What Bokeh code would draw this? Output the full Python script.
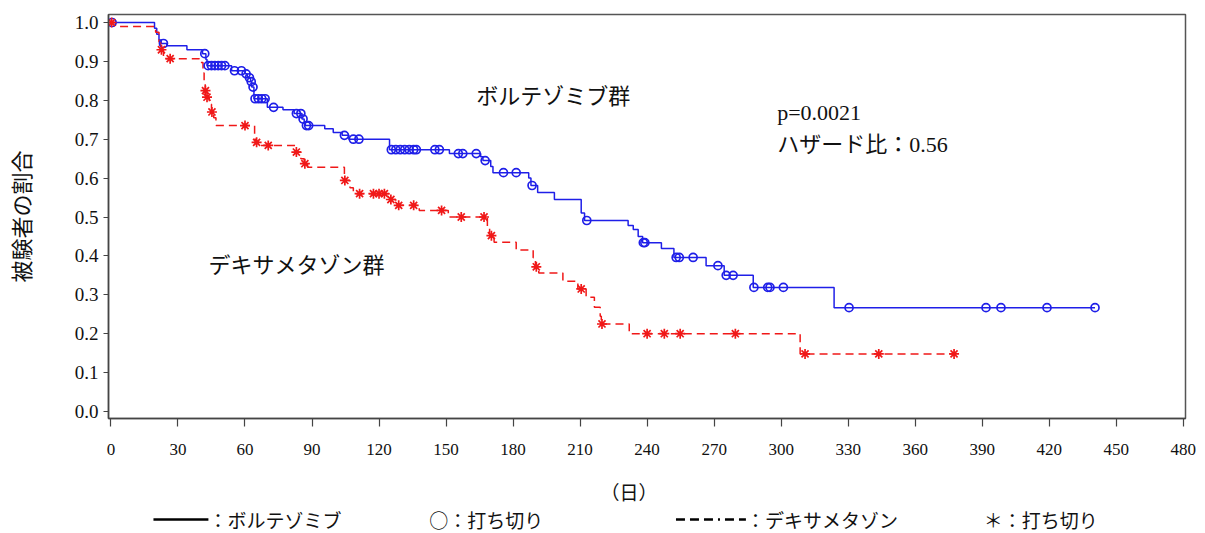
import numpy as np
from bokeh.plotting import figure
from bokeh.layouts import column
from bokeh.models import Range1d, FixedTicker, PrintfTickFormatter, Label
from bokeh.embed import file_html
from bokeh.resources import INLINE

# Kaplan-Meier estimates: event days and survival proportion after each step
bort_step_days = [19.5, 20.5, 21.5, 22.5, 25, 34, 41, 42.5, 43, 54,
                  60, 61, 62.5, 63, 64, 70, 77, 82, 85.5, 86.5,
                  87, 95.7, 99.5, 103.5, 106.5, 124.7, 151.5, 165.5, 166.5, 170,
                  171, 187, 188, 191, 198.5, 210.5, 212, 231.5, 233.8, 236,
                  238, 246.4, 252, 266.4, 274.5, 287.5, 323.7]
bort_step_surv = [0.985, 0.970, 0.955, 0.946, 0.940, 0.930, 0.920, 0.905, 0.889, 0.876,
                  0.868, 0.858, 0.848, 0.834, 0.804, 0.782, 0.776, 0.766, 0.752, 0.742,
                  0.735, 0.727, 0.717, 0.710, 0.700, 0.673, 0.663, 0.655, 0.645, 0.630,
                  0.614, 0.600, 0.581, 0.563, 0.545, 0.510, 0.491, 0.478, 0.468, 0.450,
                  0.434, 0.419, 0.396, 0.375, 0.350, 0.319, 0.267]
bort_censor_days = [0.5, 23.5, 42, 43.5, 45, 46.5, 48, 49.5, 51, 55.3,
                    58.4, 60.5, 62, 62.8, 63.6, 64.5, 66, 67.5, 69, 72.8,
                    83, 85, 86, 87.5, 88.5, 104.5, 108.5, 111, 125.5, 127.5,
                    129.5, 131.5, 133.5, 135.5, 136.7, 145, 147, 155.5, 157.5, 163.5,
                    167.5, 175.7, 181.4, 188.5, 213, 238.3, 239, 253, 254.4, 260.6,
                    271.7, 275.4, 278.5, 287.8, 294, 295, 301, 330.4, 391.7, 398.4,
                    419, 440.5]

dexa_step_days = [2, 20, 21.5, 22.2, 23.5, 39.5, 41.2, 41.7, 42.2, 42.8,
                  44, 45, 46, 47, 64.3, 65, 67, 82.5, 85, 86.5,
                  88, 104.5, 107, 108.5, 124.5, 127.5, 138, 151, 168.5, 169.5,
                  171.5, 181.4, 189, 190, 191.5, 202.3, 209, 212.7, 216.4, 219,
                  219.5, 232, 308.5]
dexa_step_surv = [0.990, 0.975, 0.950, 0.930, 0.907, 0.897, 0.870, 0.845, 0.825, 0.808,
                  0.790, 0.770, 0.755, 0.735, 0.700, 0.692, 0.684, 0.667, 0.650, 0.637,
                  0.628, 0.594, 0.575, 0.560, 0.545, 0.530, 0.517, 0.500, 0.470, 0.452,
                  0.435, 0.415, 0.395, 0.372, 0.356, 0.335, 0.315, 0.294, 0.268, 0.245,
                  0.225, 0.200, 0.148]
dexa_censor_days = [0.3, 22.6, 26.5, 42.3, 43, 45.2, 60, 65.2, 70.4, 83,
                    86.8, 104.7, 111.3, 117.5, 120, 122.4, 125.3, 128.8, 135.5, 148,
                    156.8, 167, 170.3, 190.4, 210.5, 219.8, 240, 247.7, 254.8, 279.5,
                    310.7, 343.7, 377.4]

x_ticks = list(range(0, 481, 30))
y_ticks = [round(0.1 * i, 1) for i in range(11)]

x_title = "（日）"
key_texts = ["：ボルテゾミブ", "○：打ち切り", "：デキサメタゾン", "＊：打ち切り"]

BLUE = "#1f1fe8"
RED = "#f01818"
INK = "#111111"
SERIF = "Liberation Serif"
JP = "Noto Sans CJK JP"
W = 1205
LEFT, RIGHT = 107, 20
MAIN_H, FOOT_H = 470, 63


def km_path(days, surv, censors):
    xs = [0.0] + list(days) + [max(censors)]
    ys = [1.0] + list(surv) + [surv[-1]]
    return xs, ys


def at_time(days, surv, t):
    levels = np.concatenate([[1.0], surv])
    idx = np.searchsorted(np.asarray(days), np.asarray(t), side="right")
    return levels[idx]


p = figure(width=W, height=MAIN_H, output_backend="svg", toolbar_location=None,
           x_range=Range1d(-1.1, 481), y_range=Range1d(-0.018, 1.0206),
           min_border_left=LEFT, min_border_right=RIGHT, min_border_top=14,
           min_border_bottom=MAIN_H - 418)
p.background_fill_color = "white"
p.border_fill_color = "white"
p.outline_line_color = "#555555"
p.outline_line_width = 1.5
p.grid.visible = False

# axes
p.xaxis.ticker = FixedTicker(ticks=x_ticks)
p.yaxis.ticker = FixedTicker(ticks=y_ticks)
p.yaxis.formatter = PrintfTickFormatter(format="%.1f")
for ax in (p.xaxis[0], p.yaxis[0]):
    ax.axis_line_color = "#444444"
    ax.axis_line_width = 1.5
    ax.major_tick_line_color = "#444444"
    ax.major_tick_line_width = 1.2
    ax.minor_tick_line_color = None
    ax.major_tick_in = 0
    ax.major_label_text_font = SERIF
    ax.major_label_text_color = INK
    ax.axis_label_text_font = JP
    ax.axis_label_text_font_style = "normal"
    ax.axis_label_text_color = INK
p.xaxis.major_tick_out = 8
p.yaxis.major_tick_out = 5
p.xaxis.major_label_text_font_size = "17px"
p.yaxis.major_label_text_font_size = "19px"
p.xaxis.major_label_standoff = 17
p.yaxis.major_label_standoff = 5
p.yaxis.axis_label = "被験者の割合"
p.yaxis.axis_label_text_font_size = "22px"
p.yaxis.axis_label_standoff = 36

# survival curves
bx, by = km_path(bort_step_days, bort_step_surv, bort_censor_days)
p.step(bx, by, mode="after", line_color=BLUE, line_width=1.5)
dx, dy = km_path(dexa_step_days, dexa_step_surv, dexa_censor_days)
p.step(dx, dy, mode="after", line_color=RED, line_width=1.5, line_dash="8 5")

# censoring marks
p.scatter(bort_censor_days, at_time(bort_step_days, bort_step_surv, bort_censor_days),
          marker="circle", size=8, fill_color=None, line_color=BLUE, line_width=1.7)
p.scatter(dexa_censor_days, at_time(dexa_step_days, dexa_step_surv, dexa_censor_days),
          marker="asterisk", size=10, line_color=RED, line_width=1.7)

# group names and statistics
p.add_layout(Label(x=198, y=0.815, text="ボルテゾミブ群", text_font=JP,
                   text_font_size="22px", text_align="center", text_baseline="middle",
                   text_color=INK))
p.add_layout(Label(x=83, y=0.383, text="デキサメタゾン群", text_font=JP,
                   text_font_size="22px", text_align="center", text_baseline="middle",
                   text_color=INK))
p.add_layout(Label(x=298.2, y=0.769, text="p=0.0021", text_font=SERIF,
                   text_font_size="22px", text_align="left", text_baseline="middle",
                   text_color=INK))
p.add_layout(Label(x=298.2, y=0.686, text="ハザード比：0.56",
                   text_font="'Liberation Serif', 'Noto Sans CJK JP'",
                   text_font_size="22px", text_align="left", text_baseline="middle",
                   text_color=INK))

# footer strip: x-axis title and key. Its frame lines up with the chart
# frame, so both ranges are expressed in page pixels (y counted from the bottom)
foot = figure(width=W, height=FOOT_H, output_backend="svg", toolbar_location=None,
              x_range=Range1d(LEFT, W - RIGHT), y_range=Range1d(0, FOOT_H),
              min_border_left=LEFT, min_border_right=RIGHT,
              min_border_top=0, min_border_bottom=0)
foot.axis.visible = False
foot.grid.visible = False
foot.outline_line_color = None
foot.background_fill_color = "white"
foot.border_fill_color = "white"

foot.text([628], [42], text=[x_title], text_font={"value": JP},
          text_font_size="19px", text_align="center", text_baseline="middle",
          text_color=INK)

ky = 14
foot.line([152, 207], [ky, ky], line_color="black", line_width=2.5)
foot.line([675, 745], [ky, ky], line_color="black", line_width=2.5,
          line_dash="9 5 9 5 9 5 2 5")
foot.text([207, 428, 745, 983], [ky] * 4, text=key_texts, text_font={"value": JP},
          text_font_size="19px", text_align="left", text_baseline="middle",
          text_color=INK)

layout = column(p, foot, spacing=0)
open("out.html", "w").write(file_html(layout, INLINE))
